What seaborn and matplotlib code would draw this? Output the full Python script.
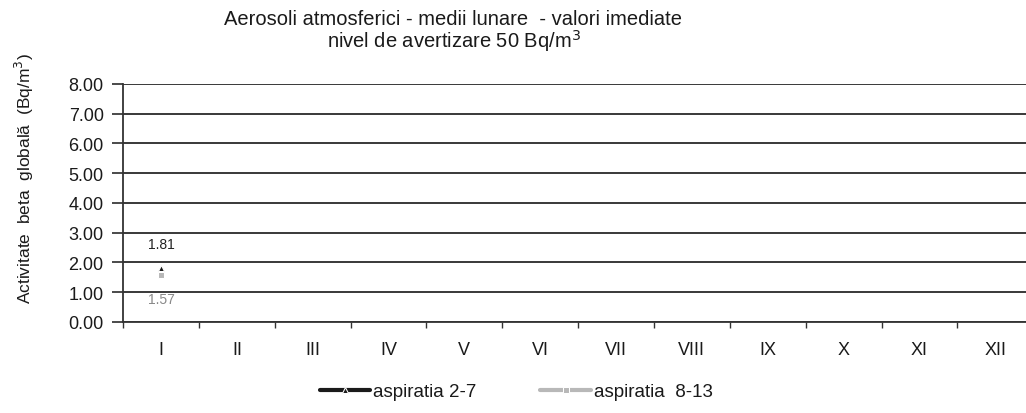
import matplotlib
matplotlib.use("Agg")
import matplotlib.pyplot as plt
import seaborn as sns
import numpy as np
import pandas as pd

# date: doar luna ianuarie are valori
luni = ["I", "II", "III", "IV", "V", "VI", "VII", "VIII", "IX", "X", "XI", "XII"]
aspiratia_2_7 = [1.81] + [np.nan] * 11
aspiratia_8_13 = [1.57] + [np.nan] * 11
yticks = [0, 1, 2, 3, 4, 5, 6, 7, 8]

sns.set_theme(style="white")
plt.rcParams['font.family'] = ['Liberation Sans', 'DejaVu Sans']
plt.rcParams['text.color'] = '#1a1a1a'

df = pd.DataFrame({
    "luna": list(range(len(luni))) * 2,
    "valoare": aspiratia_2_7 + aspiratia_8_13,
    "serie": ["aspiratia 2-7"] * 12 + ["aspiratia  8-13"] * 12,
})

fig = plt.figure(figsize=(10.26, 4.14), dpi=100)
ax = fig.add_axes([0.12, 0.22, 0.887, 0.575])

sns.lineplot(data=df, x="luna", y="valoare", hue="serie",
             palette={"aspiratia 2-7": "#1a1a1a", "aspiratia  8-13": "#b8b8b8"},
             style="serie", markers={"aspiratia 2-7": "^", "aspiratia  8-13": "s"},
             dashes=False, linewidth=3, markersize=5, ax=ax, legend=True)

# etichete valori
ax.text(0, aspiratia_2_7[0] + 0.82, f"{aspiratia_2_7[0]:.2f}", ha="center", va="center",
        fontsize=10, color="#222222")
ax.text(0, aspiratia_8_13[0] - 0.8, f"{aspiratia_8_13[0]:.2f}", ha="center", va="center",
        fontsize=10, color="#888888")

ax.set_xlim(-0.5, 11.5)
ax.set_ylim(0, 8)
ax.set_yticks(yticks)
ax.set_yticklabels([f"{v:.2f}" for v in yticks], fontsize=13, color="#1a1a1a")
ax.set_xticks(range(len(luni)))
ax.set_xticklabels(luni, fontsize=13, color="#1a1a1a")
ax.set_xticks(np.arange(-0.5, 11.6, 1), minor=True)
ax.tick_params(axis="x", which="major", length=0, pad=14)
ax.tick_params(axis="x", which="minor", length=4, color="#333333", direction="out", bottom=True)
ax.tick_params(axis="y", length=8, color="#333333", direction="out", left=True, pad=6)

ax.grid(axis="y", color="#2a2a2a", linewidth=1.3)
for s in ["top", "right"]:
    ax.spines[s].set_visible(False)
ax.spines["left"].set_color("#333333")
ax.spines["bottom"].set_color("#333333")
ax.spines["left"].set_linewidth(1.3)
ax.spines["bottom"].set_linewidth(1.3)

ax.set_xlabel("")
ax.set_ylabel("Activitate  beta  globală  (Bq/m$^3$)", fontsize=12.5, color="#1a1a1a")
ax.yaxis.set_label_coords(-0.096, 0.605)

fig.text(0.442, 0.922, "Aerosoli atmosferici - medii lunare  - valori imediate\nnivel de avertizare 50 Bq/m$^3$",
         ha="center", va="center", fontsize=14.5, linespacing=0.95)

handles, labels = ax.get_legend_handles_labels()
ax.get_legend().remove()
fig.legend(handles, labels, loc="center", bbox_to_anchor=(0.503, 0.051), ncol=2, frameon=False,
           fontsize=13.5, handlelength=2.7, columnspacing=3.4, handletextpad=0.15)

fig.savefig("out.png", dpi=100)
